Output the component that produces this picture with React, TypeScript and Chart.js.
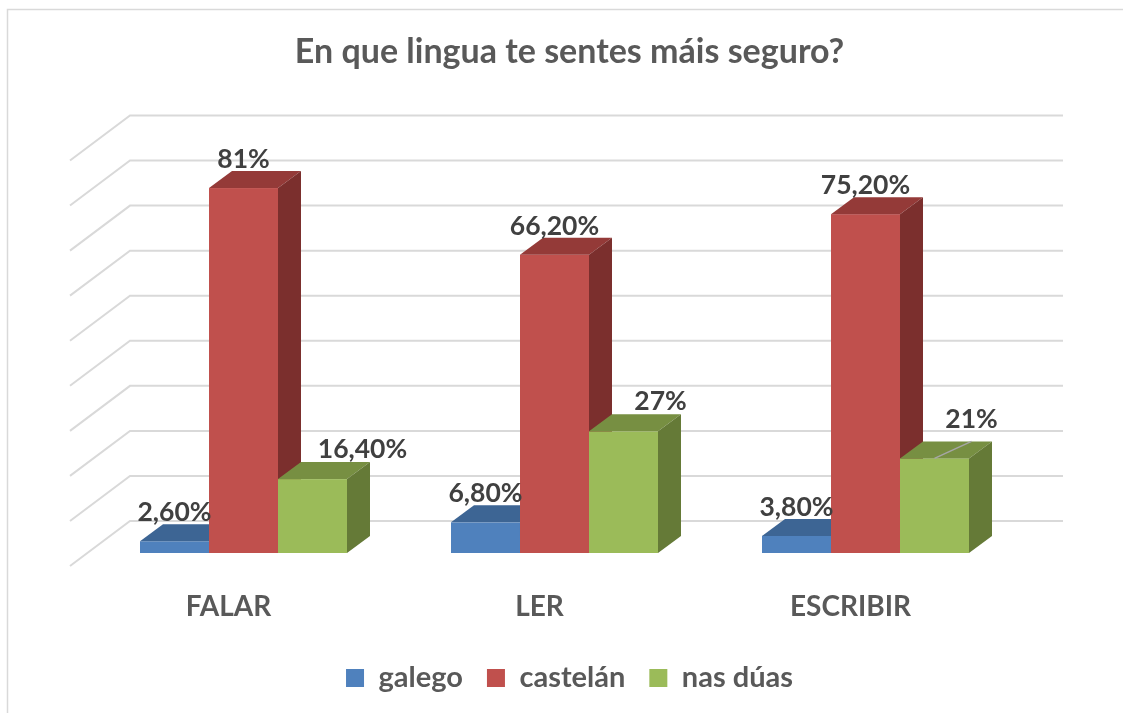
import React, { useEffect, useRef } from "react";
import { Chart, registerables } from "chart.js";

Chart.register(...registerables);

// ---------- data ----------
const categories = ["FALAR", "LER", "ESCRIBIR"];
const seriesNames = ["galego", "castelán", "nas dúas"];
const galego = [2.6, 6.8, 3.8];
const castelan = [81, 66.2, 75.2];
const nasDuas = [16.4, 27, 21];
const axisMin = 0;
const axisMax = 90;
const axisStep = 10;
const chartTitle = "En que lingua te sentes máis seguro?";

// ---------- style ----------
const frontColors = ["#4F81BD", "#C0504D", "#9BBB59"];
const topColors = ["#3D6594", "#943A38", "#778F42"];
const sideColors = ["#35577F", "#7B2F2D", "#657A37"];
const DEPTH = { dx: 23, dy: -17 };
const WALL = { dx: 42, dy: -32, sideDx: -60, sideDy: 45 };
const labelNudge = [
  [{ dx: 0, dy: 0 }, { dx: 0, dy: 0 }, { dx: 0, dy: 0 }],
  [{ dx: 0, dy: 0 }, { dx: 0, dy: 0 }, { dx: 0, dy: 0 }],
  [{ dx: 50, dy: -1 }, { dx: 37, dy: -1 }, { dx: 37, dy: -10, leader: true }],
];

function fmt(v: number) {
  return Number.isInteger(v) ? `${v}%` : v.toFixed(2).replace(".", ",") + "%";
}

function barProps(chart: any, i: number, j: number) {
  const el = chart.getDatasetMeta(i).data[j];
  return el.getProps(["x", "y", "base", "width"], true);
}

const bars3d = {
  id: "bars3d",
  beforeDraw(chart: any) {
    const ctx = chart.ctx;
    ctx.save();
    ctx.strokeStyle = "#D9D9D9";
    ctx.lineWidth = 1.5;
    ctx.strokeRect(7.5, 9.5, chart.width + 40, chart.height + 40);
    ctx.restore();
  },
  beforeDatasetsDraw(chart: any) {
    const { ctx, chartArea } = chart;
    const ys = chart.scales.y;
    ctx.save();
    ctx.strokeStyle = "#D9D9D9";
    ctx.lineWidth = 2;
    for (const t of ys.ticks) {
      const yb = ys.getPixelForValue(t.value) + WALL.dy;
      const xl = chartArea.left + WALL.dx;
      const xr = chartArea.right + WALL.dx;
      ctx.beginPath();
      ctx.moveTo(xl + WALL.sideDx, yb + WALL.sideDy);
      ctx.lineTo(xl, yb);
      ctx.lineTo(xr, yb);
      ctx.stroke();
    }
    const n = chart.data.labels.length;
    const m = chart.data.datasets.length;
    for (let j = 0; j < n; j++) {
      for (let i = 0; i < m; i++) {
        const { x, y, base, width } = barProps(chart, i, j);
        const l = x - width / 2;
        const r = x + width / 2;
        ctx.fillStyle = frontColors[i];
        ctx.fillRect(l, y, width, base - y);
        ctx.fillStyle = topColors[i];
        ctx.beginPath();
        ctx.moveTo(l, y);
        ctx.lineTo(r, y);
        ctx.lineTo(r + DEPTH.dx, y + DEPTH.dy);
        ctx.lineTo(l + DEPTH.dx, y + DEPTH.dy);
        ctx.closePath();
        ctx.fill();
        ctx.fillStyle = sideColors[i];
        ctx.beginPath();
        ctx.moveTo(r, y);
        ctx.lineTo(r + DEPTH.dx, y + DEPTH.dy);
        ctx.lineTo(r + DEPTH.dx, base + DEPTH.dy);
        ctx.lineTo(r, base);
        ctx.closePath();
        ctx.fill();
      }
    }
    ctx.restore();
    return false;
  },
  afterDraw(chart: any) {
    const ctx = chart.ctx;
    ctx.save();
    ctx.font = "bold 26.5px Lato";
    ctx.textAlign = "center";
    ctx.textBaseline = "alphabetic";
    chart.data.datasets.forEach((ds: any, i: number) => {
      ds.data.forEach((v: number, j: number) => {
        const { x, y } = barProps(chart, i, j);
        const nd: any = labelNudge[i][j];
        const lx = x + nd.dx;
        const ly = y + DEPTH.dy - 3 + nd.dy;
        if (nd.leader) {
          ctx.strokeStyle = "#A6A6A6";
          ctx.lineWidth = 1.5;
          ctx.beginPath();
          ctx.moveTo(x, y);
          ctx.lineTo(lx, ly + 13);
          ctx.stroke();
        }
        ctx.fillStyle = "#404040";
        ctx.fillText(fmt(v), lx, ly);
      });
    });
    ctx.restore();
  },
};

export default function App() {
  const ref = useRef<HTMLCanvasElement>(null);
  useEffect(() => {
    let chart: Chart | null = null;
    let cancelled = false;
    const make = () => {
      if (cancelled || !ref.current) return;
      chart = new Chart(ref.current, {
        type: "bar",
        data: {
          labels: categories,
          datasets: [galego, castelan, nasDuas].map((d, i) => ({
            label: seriesNames[i],
            data: d,
            backgroundColor: frontColors[i],
            borderWidth: 0,
            categoryPercentage: 0.6656,
            barPercentage: 1,
          })),
        },
        options: {
          responsive: false,
          animation: false,
          events: [],
          layout: { padding: { left: 16, right: 0, top: 0, bottom: 10.5 } },
          plugins: {
            title: {
              display: true,
              text: chartTitle,
              color: "#595959",
              font: { family: "Lato", size: 34, weight: "bold" },
              padding: { top: 31.4, bottom: 75.3 },
            },
            legend: {
              position: "bottom",
              labels: {
                boxWidth: 18,
                boxHeight: 18,
                padding: 24,
                color: "#595959",
                font: { family: "Lato", size: 29, weight: "bold" },
              },
            },
            tooltip: { enabled: false },
          },
          scales: {
            x: {
              grid: { display: false, drawTicks: false },
              border: { display: false },
              ticks: {
                color: "#595959",
                font: { family: "Lato", size: 28, weight: "bold" },
                padding: 37,
                labelOffset: -15,
              },
              afterFit: (s: any) => {
                s.height = 86.5;
              },
            },
            y: {
              min: axisMin,
              max: axisMax,
              ticks: { stepSize: axisStep, display: false },
              grid: { display: false, drawTicks: false },
              border: { display: false },
              afterFit: (s: any) => {
                s.width = 72;
              },
            },
            y2: {
              position: "right",
              min: 0,
              max: 1,
              ticks: { display: false },
              grid: { display: false, drawTicks: false },
              border: { display: false },
              afterFit: (s: any) => {
                s.width = 102;
              },
            },
          },
        } as any,
        plugins: [bars3d as any],
      });
    };
    document.fonts.load("bold 25px Lato").then(make, make);
    return () => {
      cancelled = true;
      if (chart) chart.destroy();
    };
  }, []);
  return (
    <canvas
      ref={ref}
      width={1123}
      height={713}
      style={{ position: "absolute", left: 0, top: 0, width: 1123, height: 713, display: "block" }}
    />
  );
}
